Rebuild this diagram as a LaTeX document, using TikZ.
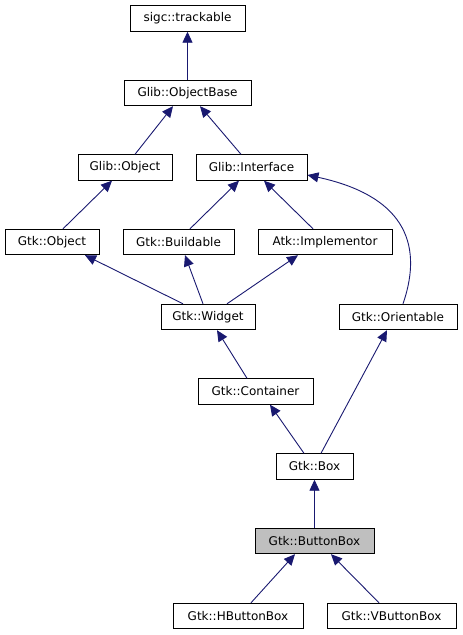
\documentclass[tikz,border=0pt]{standalone}
\usepackage{fontspec}
\setmainfont{DejaVu Sans}
\usetikzlibrary{arrows.meta}
\definecolor{edgeblue}{RGB}{25,25,112}

\tikzset{
  cls/.style={draw=black, line width=0.9pt, fill=white, minimum height=25.5pt,
    inner sep=0pt, font=\fontsize{12}{14}\selectfont},
  cur/.style={cls, fill=black!25},
  inh/.style={draw=edgeblue, line width=0.9pt,
    {Triangle[length=11pt,width=10pt,fill=edgeblue]}-}
}

\begin{document}
\begin{tikzpicture}[x=1pt,y=-1pt]
  \useasboundingbox (0,0) rectangle (463,635);

  \node[cls, minimum width=115pt] (track) at (187.5, 18.5) {sigc::trackable};
  \node[cls, minimum width=127pt] (base)  at (187.5, 93)   {Glib::ObjectBase};
  \node[cls, minimum width=94pt]  (gobj)  at (125, 167.5)  {Glib::Object};
  \node[cls, minimum width=111pt] (iface) at (251.5, 167.5){Glib::Interface};
  \node[cls, minimum width=94pt]  (kobj)  at (52, 242)     {Gtk::Object};
  \node[cls, minimum width=111pt] (build) at (178.5, 242)  {Gtk::Buildable};
  \node[cls, minimum width=134pt] (impl)  at (325, 242)    {Atk::Implementor};
  \node[cls, minimum width=94pt]  (widget) at (208, 317)   {Gtk::Widget};
  \node[cls, minimum width=118pt] (orient) at (398, 317)   {Gtk::Orientable};
  \node[cls, minimum width=115pt] (cont)  at (255.5, 391.5){Gtk::Container};
  \node[cls, minimum width=77pt]  (box)   at (314.5, 466.5){Gtk::Box};
  \node[cur, minimum width=119pt] (bbox)  at (314.5, 541)  {Gtk::ButtonBox};
  \node[cls, minimum width=130pt] (hbox)  at (238, 616)    {Gtk::HButtonBox};
  \node[cls, minimum width=129pt] (vbox)  at (391.5, 616)  {Gtk::VButtonBox};

  % inheritance edges, tip at the parent
  \draw[inh] (track.south) -- (base.north);
  \draw[inh] ([xshift=-14.5pt]base.south) -- ([xshift=10pt]gobj.north);
  \draw[inh] ([xshift=12.5pt]base.south)  -- ([xshift=-10.5pt]iface.north);
  \draw[inh] ([xshift=-13pt]gobj.south)   -- ([xshift=11pt]kobj.north);
  \draw[inh] ([xshift=-12.5pt]iface.south) -- ([xshift=11.5pt]build.north);
  \draw[inh] ([xshift=12.5pt]iface.south) -- ([xshift=-12pt]impl.north);
  \draw[inh] ([yshift=-7.5pt]iface.east) .. controls (400,195) and (425,240) .. ([xshift=5pt]orient.north);
  \draw[inh] ([xshift=33pt]kobj.south)    -- ([xshift=-25pt]widget.north);
  \draw[inh] ([xshift=6.5pt]build.south)  -- ([xshift=-5pt]widget.north);
  \draw[inh] ([xshift=-27pt]impl.south)   -- ([xshift=19pt]widget.north);
  \draw[inh] ([xshift=9pt]widget.south)   -- ([xshift=-8.5pt]cont.north);
  \draw[inh] ([xshift=14.5pt]cont.south)  -- ([xshift=-10.5pt]box.north);
  \draw[inh] ([xshift=-11pt]orient.south) -- ([xshift=6.5pt]box.north);
  \draw[inh] (box.south) -- (bbox.north);
  \draw[inh] ([xshift=-19.5pt]bbox.south) -- ([xshift=13pt]hbox.north);
  \draw[inh] ([xshift=16.5pt]bbox.south)  -- ([xshift=-12.5pt]vbox.north);
\end{tikzpicture}
\end{document}
